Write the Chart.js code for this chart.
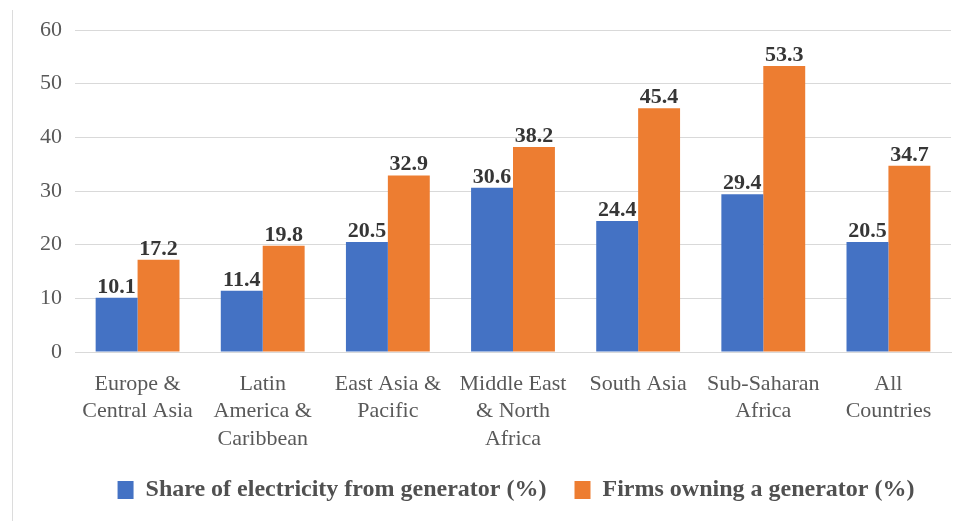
<!DOCTYPE html>
<html>
<head>
<meta charset="utf-8">
<script src="https://cdn.jsdelivr.net/npm/chart.js@4/dist/chart.umd.min.js"></script>
<style>
  html, body { margin: 0; padding: 0; background: #ffffff; }
  #wrap { position: relative; width: 972px; height: 521px; }
  #edge { position: absolute; left: 12px; top: 10px; width: 1px; height: 511px; background: #dcdcdc; }
  canvas { position: absolute; left: 0; top: 0; }
</style>
</head>
<body>
<div id="wrap">
  <div id="edge"></div>
  <canvas id="c" width="972" height="521"></canvas>
</div>
<script>
const categories = [
  ["Europe &", "Central Asia"],
  ["Latin", "America &", "Caribbean"],
  ["East Asia &", "Pacific"],
  ["Middle East", "& North", "Africa"],
  ["South Asia"],
  ["Sub-Saharan", "Africa"],
  ["All", "Countries"]
];
const shareFromGenerator = [10.1, 11.4, 20.5, 30.6, 24.4, 29.4, 20.5];
const firmsOwningGenerator = [17.2, 19.8, 32.9, 38.2, 45.4, 53.3, 34.7];
const seriesNames = ["Share of electricity from generator (%)", "Firms owning a generator (%)"];
const yTicks = [0, 10, 20, 30, 40, 50, 60];

const valueLabels = {
  id: 'valueLabels',
  afterDatasetsDraw(chart) {
    const ctx = chart.ctx;
    ctx.save();
    ctx.font = 'bold 22px "Liberation Serif", serif';
    ctx.fillStyle = '#363636';
    ctx.textAlign = 'center';
    ctx.textBaseline = 'alphabetic';
    chart.data.datasets.forEach((ds, i) => {
      const meta = chart.getDatasetMeta(i);
      meta.data.forEach((bar, j) => {
        ctx.fillText(ds.data[j].toFixed(1), bar.x, bar.y - 5);
      });
    });
    ctx.restore();
  }
};

const legendShift = {
  id: 'legendShift',
  afterLayout(chart) {
    if (chart.legend) {
      chart.legend.left += 27;
      chart.legend.right += 27;
    }
  }
};

new Chart(document.getElementById('c'), {
  type: 'bar',
  data: {
    labels: categories,
    datasets: [
      { label: seriesNames[0], data: shareFromGenerator, backgroundColor: '#4472C4' },
      { label: seriesNames[1], data: firmsOwningGenerator, backgroundColor: '#ED7D31' }
    ]
  },
  options: {
    responsive: false,
    animation: false,
    devicePixelRatio: 1,
    layout: { padding: { left: 27, right: 21, top: 30, bottom: 9 } },
    datasets: { bar: { categoryPercentage: 0.67, barPercentage: 1.0 } },
    scales: {
      x: {
        afterFit(scale) { scale.height = 98; },
        grid: { display: false, drawTicks: false },
        border: { display: true, color: '#d9d9d9' },
        ticks: {
          color: '#595959',
          padding: 18,
          maxRotation: 0,
          autoSkip: false,
          font: { family: '"Liberation Serif", serif', size: 22, lineHeight: 1.25 }
        }
      },
      y: {
        min: 0, max: 60,
        afterBuildTicks(axis) { axis.ticks = yTicks.map(v => ({ value: v })); },
        grid: { color: '#d9d9d9', drawTicks: false },
        border: { display: false },
        ticks: {
          color: '#595959',
          padding: 13,
          font: { family: '"Liberation Serif", serif', size: 22 }
        }
      }
    },
    plugins: {
      legend: {
        position: 'bottom',
        labels: {
          boxWidth: 16,
          boxHeight: 18,
          padding: 28,
          color: '#505050',
          font: { family: '"Liberation Serif", serif', size: 24, weight: 'bold' }
        }
      },
      tooltip: { enabled: false }
    }
  },
  plugins: [valueLabels, legendShift]
});
</script>
</body>
</html>
